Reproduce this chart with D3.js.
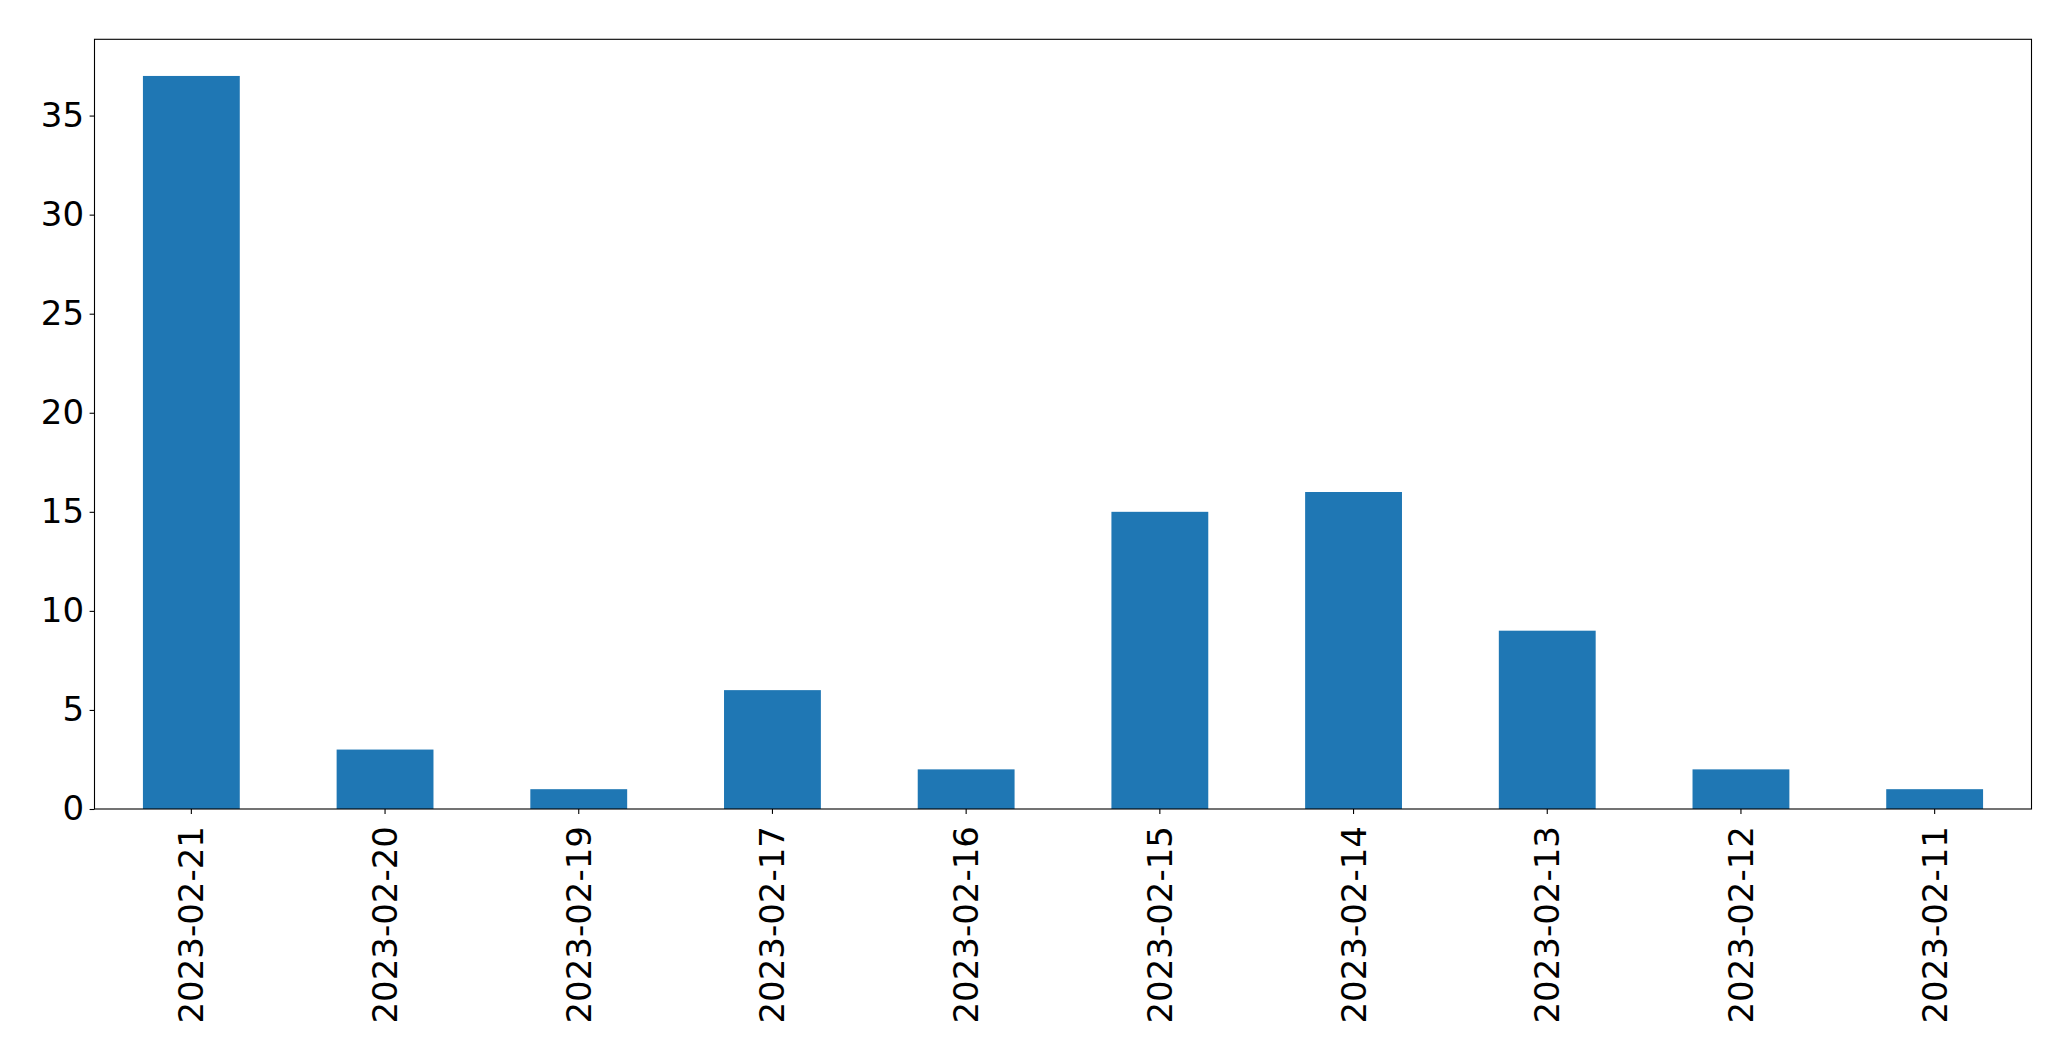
<!DOCTYPE html>
<html><head><meta charset="utf-8">
<script src="https://cdn.jsdelivr.net/npm/d3@7"></script>
<style>body{margin:0;background:#fff;} svg{display:block;}</style>
</head><body>
<script>
const categories = ["2023-02-21","2023-02-20","2023-02-19","2023-02-17","2023-02-16","2023-02-15","2023-02-14","2023-02-13","2023-02-12","2023-02-11"];
const values = [37, 3, 1, 6, 2, 15, 16, 9, 2, 1];
const yTicks = [0, 5, 10, 15, 20, 25, 30, 35];

(function () {
const W = 2071, H = 1061;
const mLeft = 94.5, mRight = 2031.5, mTop = 39.3, mBottom = 809;
const svg = d3.select("body").append("svg").attr("width", W).attr("height", H);

const x = d3.scaleBand().domain(categories).range([mLeft, mRight]).paddingInner(0.5).paddingOuter(0.25);
const y = d3.scaleLinear().domain([0, d3.max(values) * 1.05]).range([mBottom, mTop]);

svg.append("g").selectAll("rect").data(values).join("rect")
  .attr("x", (d, i) => x(categories[i]))
  .attr("width", x.bandwidth())
  .attr("y", d => y(d))
  .attr("height", d => y(0) - y(d))
  .attr("fill", "#1f77b4");

const font = "'DejaVu Sans', sans-serif";
const fs = 34;
const yAxis = svg.append("g").attr("transform", `translate(${mLeft},0)`)
  .call(d3.axisLeft(y).tickValues(yTicks).tickSize(4.9).tickPadding(5.5));
yAxis.select(".domain").remove();
yAxis.selectAll("line").attr("stroke", "#000").attr("stroke-width", 1.1);
yAxis.selectAll("text").attr("font-family", font).attr("font-size", fs).attr("fill", "#000");

const xAxis = svg.append("g").attr("transform", `translate(0,${mBottom})`)
  .call(d3.axisBottom(x).tickSize(4.9).tickPadding(4.9));
xAxis.select(".domain").remove();
xAxis.selectAll("line").attr("stroke", "#000").attr("stroke-width", 1.1);
xAxis.selectAll("text").attr("font-family", font).attr("font-size", fs).attr("fill", "#000")
  .attr("text-anchor", "end").attr("dy", null).attr("y", 0)
  .attr("transform", "translate(0,17) rotate(-90)").attr("dominant-baseline", "central");

svg.append("rect").attr("x", mLeft).attr("y", mTop).attr("width", mRight - mLeft).attr("height", mBottom - mTop)
  .attr("fill", "none").attr("stroke", "#000").attr("stroke-width", 1.1);
})();
</script>
</body></html>
